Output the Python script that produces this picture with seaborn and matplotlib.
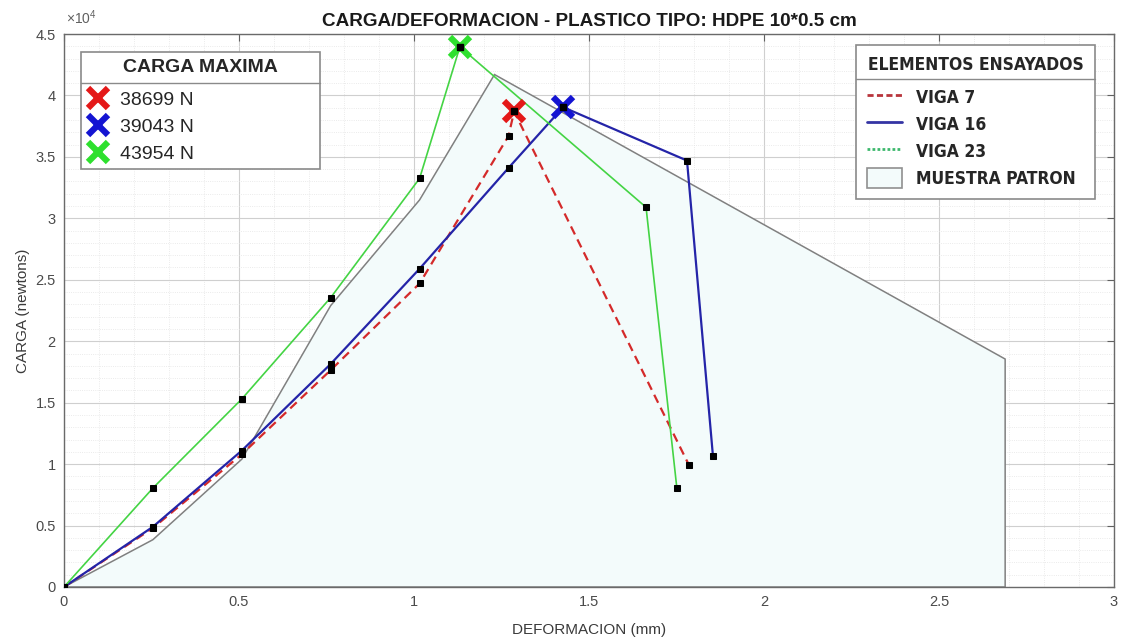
import numpy as np
import pandas as pd
import matplotlib
matplotlib.use("Agg")
import matplotlib.pyplot as plt
import seaborn as sns
from matplotlib.lines import Line2D
from matplotlib.patches import Patch
from matplotlib.ticker import MultipleLocator, FuncFormatter

# Deformation (mm) and load (N) readings for each tested beam
viga7_def = [0, 0.254, 0.508, 0.762, 1.016, 1.270, 1.286, 1.786]
viga7_carga = [0, 4800, 10800, 17650, 24700, 36700, 38699, 9900]

viga16_def = [0, 0.254, 0.508, 0.762, 1.016, 1.270, 1.426, 1.780, 1.854]
viga16_carga = [0, 4900, 11100, 18150, 25900, 34100, 39043, 34700, 10700]

viga23_def = [0, 0.254, 0.508, 0.762, 1.016, 1.131, 1.663, 1.751]
viga23_carga = [0, 8050, 15300, 23550, 33250, 43954, 30900, 8050]

# Reference specimen (drawn as a filled outline)
patron_def = [0, 0.254, 0.508, 0.762, 1.016, 1.230, 2.689, 2.689]
patron_carga = [0, 3850, 10400, 22900, 31500, 41700, 18550, 0]

series_names = ["VIGA 7", "VIGA 16", "VIGA 23"]
patron_name = "MUESTRA PATRON"
x_ticks = [0, 0.5, 1, 1.5, 2, 2.5, 3]
y_ticks = [0, 5000, 10000, 15000, 20000, 25000, 30000, 35000, 40000, 45000]

line_colors = ["#d42a2a", "#2424a8", "#44d444"]
legend_line_colors = ["#b8343c", "#3434a4", "#3cb86c"]
peak_colors = ["#e41818", "#1414d2", "#2ee02e"]

W, H = 1123, 640
sns.set_style("white")
plt.rcParams["font.family"] = ["Liberation Sans", "DejaVu Sans"]
plt.rcParams["mathtext.default"] = "regular"

fig = plt.figure(figsize=(W / 100, H / 100), dpi=100)
ax = fig.add_axes([64 / W, 53 / H, 1050 / W, 553 / H])

frames = []
for name, xs, ys in zip(series_names,
                        [viga7_def, viga16_def, viga23_def],
                        [viga7_carga, viga16_carga, viga23_carga]):
    frames.append(pd.DataFrame({"def": xs, "carga": ys, "viga": name}))
data = pd.concat(frames, ignore_index=True)

# reference specimen area
ax.fill(patron_def, patron_carga, facecolor="#f3fbfb", edgecolor="#808080",
        linewidth=1.1, zorder=1.5)

styles = {"VIGA 7": dict(linestyle=(0, (4, 2.5)), linewidth=1.6),
          "VIGA 16": dict(linestyle="-", linewidth=1.6),
          "VIGA 23": dict(linestyle="-", linewidth=1.2)}

for name, col in zip(series_names, line_colors):
    sub = data[data["viga"] == name]
    sns.lineplot(data=sub, x="def", y="carga", sort=False, estimator=None,
                 color=col, marker="s", markersize=4.5, markerfacecolor="black",
                 markeredgecolor="black", ax=ax, legend=False, zorder=3,
                 **styles[name])

# maximum load of each beam
peaks = []
for name in series_names:
    sub = data[data["viga"] == name].reset_index(drop=True)
    i = int(sub["carga"].idxmax())
    peaks.append((sub.loc[i, "def"], sub.loc[i, "carga"]))

for (px, py), col in zip(peaks, peak_colors):
    ax.plot([px], [py], ls="none", marker="x", markersize=14, mew=4.5,
            color=col, zorder=4)
    ax.plot([px], [py], ls="none", marker="s", markersize=4,
            color="black", zorder=5)

ax.set_xlim(0, 3)
ax.set_ylim(0, 45000)
ax.set_xticks(x_ticks)
ax.set_yticks(y_ticks)
ax.xaxis.set_minor_locator(MultipleLocator(0.1))
ax.yaxis.set_minor_locator(MultipleLocator(1000))
ax.xaxis.set_major_formatter(FuncFormatter(lambda v, _: f"{v:g}"))
ax.yaxis.set_major_formatter(FuncFormatter(lambda v, _: f"{v / 1e4:g}"))
ax.set_axisbelow(True)
ax.grid(True, which="major", color="#cfcfcf", linewidth=0.8)
ax.grid(True, which="minor", color="#e4e4e4", linewidth=0.6, linestyle=":")
ax.tick_params(which="major", direction="in", top=True, right=True, length=5,
               color="#606060", labelsize=10.5, labelcolor="#4a4a4a", pad=6)
ax.tick_params(which="minor", length=0)
for sp in ax.spines.values():
    sp.set_color("#6a6a6a")
    sp.set_linewidth(1.0)

ax.set_xlabel("DEFORMACION (mm)", fontsize=11, color="#3a3a3a", labelpad=10)
ax.set_ylabel("CARGA (newtons)", fontsize=11, color="#3a3a3a", labelpad=4)
ax.set_title("CARGA/DEFORMACION - PLASTICO TIPO: HDPE 10*0.5 cm",
             fontsize=13.6, fontweight="bold", color="#1a1a1a", pad=6)
fig.text(66 / W, 1 - 18 / H, r"$\times10^4$", fontsize=10, color="#606060",
         va="center", ha="left")

# Legend with the maximum loads
h1 = [Line2D([], [], ls="none", marker="x", markersize=14, mew=4.5, color=c)
      for c in peak_colors]
l1 = [f"{int(py)} N" for _, py in peaks]
leg1 = ax.legend(h1, l1, title="CARGA MAXIMA", loc="upper left",
                 bbox_to_anchor=(81 / W, 1 - 166 / H, 239 / W, 114 / H),
                 bbox_transform=fig.transFigure, mode="expand",
                 fontsize=14, title_fontproperties=dict(size=14, weight="bold"),
                 frameon=True, fancybox=False, framealpha=1, edgecolor="#8a8a8a",
                 handlelength=1.0, handletextpad=0.65, labelspacing=0.48,
                 borderpad=0.35, borderaxespad=0)
leg1._legend_box.sep = 11
leg1.get_frame().set_linewidth(1.2)
ax.add_artist(leg1)

# Legend with the tested elements
cond = dict(family=["DejaVu Sans"], stretch="condensed", weight="bold", size=12.5)
h2 = [Line2D([], [], color=legend_line_colors[0], lw=2, ls=(0, (2.2, 1.2))),
      Line2D([], [], color=legend_line_colors[1], lw=2, ls="-"),
      Line2D([], [], color=legend_line_colors[2], lw=2, ls=(0, (1, 0.8))),
      Patch(facecolor="#f3fbfb", edgecolor="#909090", linewidth=1.2)]
leg2 = ax.legend(h2, series_names + [patron_name], title="ELEMENTOS ENSAYADOS",
                 loc="upper left",
                 bbox_to_anchor=(856 / W, 1 - 203 / H, 239 / W, 158 / H),
                 bbox_transform=fig.transFigure, mode="expand",
                 prop=cond, title_fontproperties=cond,
                 frameon=True, fancybox=False, framealpha=1, edgecolor="#8a8a8a",
                 handlelength=2.0, handleheight=1.4, handletextpad=0.8,
                 labelspacing=0.4, borderpad=0.65, borderaxespad=0)
leg2._legend_box.sep = 9
leg2.get_frame().set_linewidth(1.2)

# separator lines under the legend titles
fig.canvas.draw()
renderer = fig.canvas.get_renderer()
inv = fig.transFigure.inverted()
for leg, off in ((leg1, 16), (leg2, 14)):
    fb = leg.get_frame().get_window_extent(renderer)
    tb = leg.get_title().get_window_extent(renderer)
    y = (tb.y0 + tb.y1) / 2 - off
    (x0, yy), (x1, _) = inv.transform([(fb.x0, y), (fb.x1, y)])
    fig.add_artist(Line2D([x0, x1], [yy, yy], transform=fig.transFigure,
                          color="#8a8a8a", lw=1.0, zorder=10))

fig.savefig("out.png", dpi=100)
